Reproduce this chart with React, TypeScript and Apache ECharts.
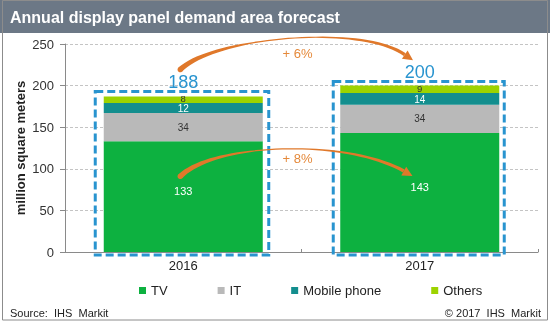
import React, { useEffect, useRef } from "react";
import * as echarts from "echarts";

const categories = ["2016", "2017"];
const tvValues = [133, 143];
const itValues = [34, 34];
const mobileValues = [12, 14];
const othersValues = [8, 9];
const totals = [188, 200];
const growthTotal = "+ 6%";
const growthTV = "+ 8%";
const yTicks = { min: 0, max: 250, interval: 50 };

const FONT = "'Liberation Sans', Arial, sans-serif";
const COLORS = { tv: "#0db140", it: "#b9b9b9", mobile: "#138e8e", others: "#9dd300" };
const BLUE = "#2994cf";
const ORANGE = "#e0782a";

type P = [number, number];

function bez(p0: P, p1: P, p2: P, p3: P, t: number): P {
  const u = 1 - t;
  return [
    u * u * u * p0[0] + 3 * u * u * t * p1[0] + 3 * u * t * t * p2[0] + t * t * t * p3[0],
    u * u * u * p0[1] + 3 * u * u * t * p1[1] + 3 * u * t * t * p2[1] + t * t * t * p3[1],
  ];
}
function bezD(p0: P, p1: P, p2: P, p3: P, t: number): P {
  const u = 1 - t;
  return [
    3 * u * u * (p1[0] - p0[0]) + 6 * u * t * (p2[0] - p1[0]) + 3 * t * t * (p3[0] - p2[0]),
    3 * u * u * (p1[1] - p0[1]) + 6 * u * t * (p2[1] - p1[1]) + 3 * t * t * (p3[1] - p2[1]),
  ];
}
function widthAt(t: number) {
  if (t < 0.4) return 5.5 - (4.3 * t) / 0.4;
  if (t < 0.6) return 1.2;
  return 1.2 + ((t - 0.6) / 0.4) * 2.3;
}
function taperedArrow(p0: P, p1: P, p2: P, p3: P) {
  const N = 40;
  const left: P[] = [];
  const right: P[] = [];
  for (let i = 0; i <= N; i++) {
    const t = i / N;
    const p = bez(p0, p1, p2, p3, t);
    const d = bezD(p0, p1, p2, p3, t);
    const len = Math.hypot(d[0], d[1]) || 1;
    const n: P = [-d[1] / len, d[0] / len];
    const w = widthAt(t) / 2;
    left.push([p[0] + n[0] * w, p[1] + n[1] * w]);
    right.push([p[0] - n[0] * w, p[1] - n[1] * w]);
  }
  const body = left.concat(right.reverse());
  const d = bezD(p0, p1, p2, p3, 1);
  const len = Math.hypot(d[0], d[1]) || 1;
  const tdir: P = [d[0] / len, d[1] / len];
  const n: P = [-tdir[1], tdir[0]];
  const head: P[] = [
    [p3[0] + n[0] * 5, p3[1] + n[1] * 5],
    [p3[0] + tdir[0] * 10, p3[1] + tdir[1] * 10],
    [p3[0] - n[0] * 5, p3[1] - n[1] * 5],
  ];
  return [
    { type: "polygon", shape: { points: body }, style: { fill: ORANGE }, silent: true, z: 20 },
    { type: "polygon", shape: { points: head }, style: { fill: ORANGE }, silent: true, z: 20 },
    { type: "circle", shape: { cx: p0[0], cy: p0[1], r: 2.75 }, style: { fill: ORANGE }, silent: true, z: 20 },
  ];
}

export default function App() {
  const ref = useRef<HTMLDivElement>(null);
  useEffect(() => {
    if (!ref.current) return;
    const chart = echarts.init(ref.current, undefined, { renderer: "svg" });
    const segLabel = (color: string, size: number, offset: number[] = [0, 0]) => ({
      show: true,
      position: "inside",
      color,
      fontSize: size,
      fontFamily: FONT,
      offset,
    });
    const option: any = {
      animation: false,
      textStyle: { fontFamily: FONT },
      grid: { left: 65, right: 12, top: 44, bottom: 69 },
      legend: {
        left: 139,
        top: 284,
        padding: 0,
        itemWidth: 7,
        itemHeight: 7,
        itemGap: 50,
        icon: "rect",
        textStyle: { fontSize: 13, color: "#222", fontFamily: FONT },
        data: ["TV", "IT", "Mobile phone", "Others"],
      },
      xAxis: {
        type: "category",
        data: categories,
        axisLine: { lineStyle: { color: "#8a8a8a" } },
        axisTick: { show: true, inside: true, length: 3, lineStyle: { color: "#8a8a8a" } },
        axisLabel: { fontSize: 13, color: "#222", margin: 7, fontFamily: FONT },
      },
      yAxis: {
        type: "value",
        min: yTicks.min,
        max: yTicks.max,
        interval: yTicks.interval,
        name: "million square meters",
        nameLocation: "middle",
        nameGap: 38,
        nameMoveOverlap: false,
        nameTextStyle: { fontSize: 13, fontWeight: "bold", color: "#222", fontFamily: FONT },
        axisLine: { show: true, lineStyle: { color: "#8a8a8a" } },
        axisTick: { show: true, length: 5, lineStyle: { color: "#8a8a8a" } },
        axisLabel: { fontSize: 13, color: "#333", margin: 11, fontFamily: FONT },
        splitLine: { lineStyle: { color: "#c4c4c4", type: [3, 2] } },
      },
      series: [
        { name: "TV", type: "bar", stack: "a", data: tvValues, barWidth: 159, itemStyle: { color: COLORS.tv }, label: segLabel("#fff", 11, [0, -6]) },
        { name: "IT", type: "bar", stack: "a", data: itValues, itemStyle: { color: COLORS.it }, label: segLabel("#333", 10) },
        { name: "Mobile phone", type: "bar", stack: "a", data: mobileValues, itemStyle: { color: COLORS.mobile }, label: segLabel("#fff", 10, [0, 0.5]) },
        { name: "Others", type: "bar", stack: "a", data: othersValues, itemStyle: { color: COLORS.others }, label: segLabel("#333", 9.5, [0, -1]) },
      ],
    };
    chart.setOption(option);

    const px = (i: number, v: number) => chart.convertToPixel({ gridIndex: 0 }, [i, v]) as number[];
    const graphics: any[] = [
      { type: "rect", shape: { x: 0, y: 0, width: 550, height: 33 }, style: { fill: "#6c7886" }, z: 1 },
      { type: "rect", shape: { x: 2.5, y: 0.5, width: 545, height: 319.5 }, style: { fill: "none", stroke: "#8c8c8c", lineWidth: 1 }, z: 1 },
      { type: "text", x: 10, y: 17, style: { text: "Annual display panel demand area forecast", fill: "#fff", font: `bold 16px ${FONT}`, textVerticalAlign: "middle" }, z: 2 },
      { type: "text", x: 10, y: 313, style: { text: "Source:  IHS  Markit", fill: "#222", font: `11px ${FONT}`, textVerticalAlign: "middle" }, z: 2 },
      { type: "text", x: 541, y: 313, style: { text: "© 2017  IHS  Markit", fill: "#222", font: `11px ${FONT}`, textAlign: "right", textVerticalAlign: "middle" }, z: 2 },
    ];
    const boxPad = [[8.5, 6], [7, 5]];
    categories.forEach((_, i) => {
      const top = px(i, totals[i]);
      const base = px(i, 0);
      const x0 = top[0] - 79.5 - boxPad[i][0];
      const x1 = top[0] + 79.5 + boxPad[i][1];
      const y0 = top[1] - 4;
      const y1 = base[1] + 3;
      graphics.push({
        type: "rect",
        shape: { x: x0, y: y0, width: x1 - x0, height: y1 - y0 },
        style: { fill: "none", stroke: BLUE, lineWidth: 3, lineDash: [8, 4] },
        z: 15,
        silent: true,
      });
      graphics.push({
        type: "text",
        x: top[0],
        y: top[1] - 14,
        style: { text: String(totals[i]), fill: BLUE, font: `18px ${FONT}`, textAlign: "center", textVerticalAlign: "middle" },
        z: 16,
      });
    });
    const A0 = px(0, totals[0]);
    const A1 = px(1, totals[1]);
    const topArrow = taperedArrow(
      [A0[0] - 3, A0[1] - 26],
      [A0[0] + 30, A0[1] - 58],
      [A1[0] - 60, A1[1] - 62],
      [A1[0] - 15, A1[1] - 31]
    );
    const B0 = px(0, tvValues[0]);
    const B1 = px(1, tvValues[1]);
    const lowArrow = taperedArrow(
      [B0[0] - 3, B0[1] + 35],
      [B0[0] + 30, B0[1] + 2],
      [B1[0] - 75, B1[1] + 5],
      [B1[0] - 16, B1[1] + 38]
    );
    graphics.push(...topArrow, ...lowArrow);
    const midX = (A0[0] + A1[0]) / 2 - 4;
    graphics.push({
      type: "text", x: midX, y: A0[1] - 42,
      style: { text: growthTotal, fill: "#e5893a", font: `13px ${FONT}`, textAlign: "center", textVerticalAlign: "middle" }, z: 21,
    });
    graphics.push({
      type: "text", x: midX, y: B0[1] + 17,
      style: { text: growthTV, fill: "#e5893a", font: `13px ${FONT}`, textAlign: "center", textVerticalAlign: "middle" }, z: 21,
    });
    chart.setOption({ graphic: { elements: graphics } });
    return () => chart.dispose();
  }, []);
  return <div ref={ref} style={{ position: "fixed", left: 0, top: 0, width: 550, height: 321 }} />;
}
